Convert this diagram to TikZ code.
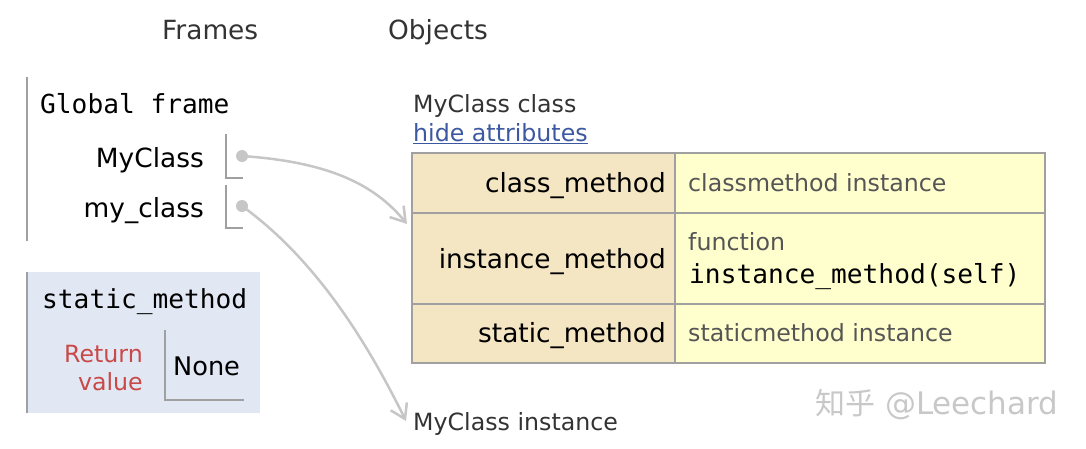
\documentclass[tikz,border=0pt]{standalone}
\usepackage{fontspec}
\setmainfont{DejaVu Sans}
\setmonofont{DejaVu Sans Mono}
\newfontfamily\cjkfont{Noto Sans CJK SC}
\usetikzlibrary{arrows.meta}
\definecolor{hdr}{HTML}{333333}
\definecolor{valgray}{HTML}{555555}
\definecolor{linkblue}{HTML}{3D58A2}
\definecolor{retred}{HTML}{C94848}
\definecolor{keybg}{HTML}{F5E6C3}
\definecolor{valbg}{HTML}{FFFFCE}
\definecolor{framebg}{HTML}{E2E8F3}
\definecolor{bordergray}{HTML}{A0A0A0}
\definecolor{conngray}{HTML}{C6C6C6}
\definecolor{wmgray}{HTML}{C8C8C8}
\tikzset{
  bigtxt/.style={inner sep=0pt, font=\fontsize{26.4}{30}\selectfont},
  smalltxt/.style={inner sep=0pt, font=\fontsize{23.7}{28.5}\selectfont},
  monotxt/.style={inner sep=0pt, font=\ttfamily\fontsize{26.2}{30}\selectfont},
  keycell/.style={draw=bordergray, fill=keybg, line width=2pt, inner sep=0pt, minimum width=263pt},
  valcell/.style={draw=bordergray, fill=valbg, line width=2pt, inner sep=0pt, minimum width=370pt},
  frameline/.style={draw=bordergray, line width=2pt},
  ptrdot/.style={circle, fill=conngray, inner sep=0pt, minimum size=12pt},
  conn/.style={draw=conngray, line width=2.5pt, -{Straight Barb[length=14pt,width=18pt]}},
}
\begin{document}
\begin{tikzpicture}[x=1pt,y=-1pt]
\useasboundingbox (0,0) rectangle (1086,448);
% headers
\node[bigtxt, text=hdr, anchor=base west] (hframes) at (162,39.5) {Frames};
\node[bigtxt, text=hdr, anchor=base west] (hobjects) at (388,39.5) {Objects};
% global frame
\draw[frameline] (27,77) -- (27,241);
\node[monotxt, anchor=base west] (gf) at (40,113) {Global frame};
\node[bigtxt, anchor=base east] (vMy) at (204,167) {MyClass};
\node[bigtxt, anchor=base east] (vmy) at (204,217) {my\_class};
\draw[frameline] (226,134) -- (226,178) -- (243,178);
\draw[frameline] (226,185) -- (226,228) -- (243,228);
\node[ptrdot] (d1) at (242,156) {};
\node[ptrdot] (d2) at (242,206) {};
% static_method frame
\fill[framebg] (27,272) rectangle (260,413);
\draw[frameline] (27,272) -- (27,413);
\node[monotxt, anchor=base west] (sm) at (42,308) {static\_method};
\node[smalltxt, text=retred, anchor=base east, align=right] (ret) at (143,362) {Return};
\node[smalltxt, text=retred, anchor=base east, align=right] (retv) at (143,390) {value};
\draw[frameline] (165,330) -- (165,400) -- (244,400);
\node[inner sep=0pt, font=\fontsize{25.6}{30}\selectfont, anchor=base west] (none) at (173,375) {None};
% objects
\node[smalltxt, text=hdr, anchor=base west] (cls) at (413,112.5) {MyClass class};
\node[smalltxt, text=linkblue, anchor=base west] (hide) at (413,141) {\underline{hide attributes}};
\node[keycell, minimum height=60pt] (k1) at (543.5,183) {};
\node[valcell, minimum height=60pt] (v1) at (860,183) {};
\node[keycell, minimum height=91pt] (k2) at (543.5,258) {};
\node[valcell, minimum height=91pt] (v2) at (860,258) {};
\node[keycell, minimum height=59pt] (k3) at (543.5,333) {};
\node[valcell, minimum height=59pt] (v3) at (860,333) {};
\node[bigtxt, anchor=base east] (k1t) at (666,192.5) {class\_method};
\node[bigtxt, anchor=base east] (k2t) at (666,268) {instance\_method};
\node[bigtxt, anchor=base east] (k3t) at (666,342.5) {static\_method};
\node[smalltxt, text=valgray, anchor=base west] (v1t) at (688,191) {classmethod instance};
\node[smalltxt, text=valgray, anchor=base west] (v2a) at (688,250) {function};
\node[monotxt, anchor=base west] (v2b) at (689,283) {instance\_method(self)};
\node[smalltxt, text=valgray, anchor=base west] (v3t) at (688,341) {staticmethod instance};
% instance
\node[smalltxt, text=hdr, anchor=base west] (inst) at (413,430.5) {MyClass instance};
\coordinate (e1) at (407,224);
\coordinate (e2) at (406,421);
% connectors
\draw[conn] (d1.center) .. controls (330,162) and (375,185) .. (e1);
\draw[conn] (d2.center) .. controls (318,261) and (369,346) .. (e2);
% watermark
\node[inner sep=0pt, text=wmgray, anchor=base west, font=\fontsize{31}{34}\selectfont] (wm) at (815,414) {{\cjkfont\fontsize{30}{34}\selectfont 知乎} @Leechard};
\end{tikzpicture}
\end{document}
